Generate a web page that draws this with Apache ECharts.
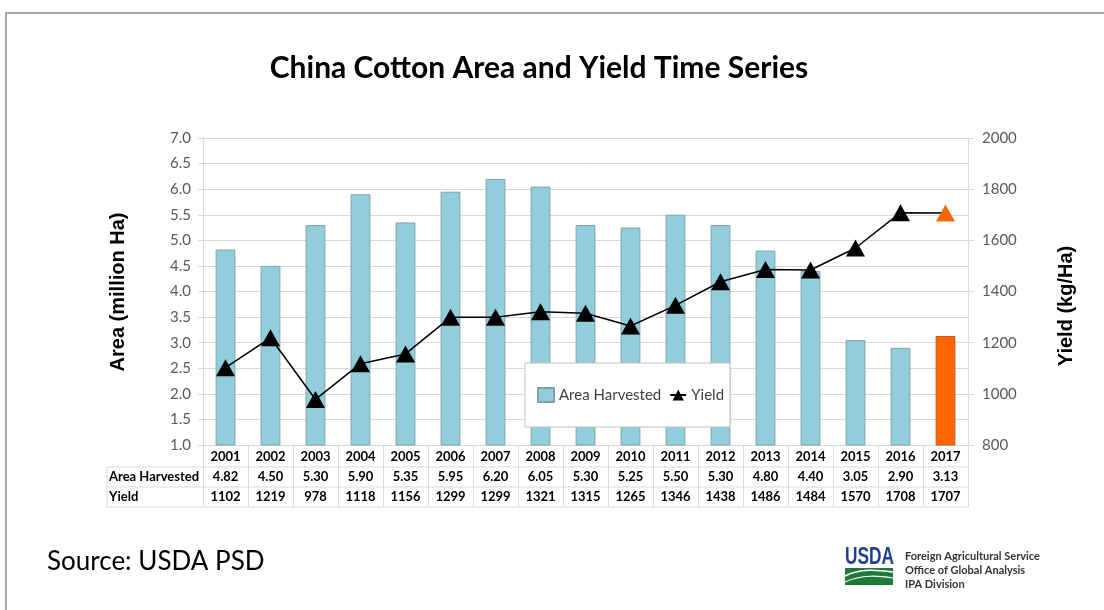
<!DOCTYPE html>
<html>
<head>
<meta charset="utf-8">
<script src="https://cdn.jsdelivr.net/npm/echarts@6/dist/echarts.min.js"></script>
<style>
html,body{margin:0;padding:0;background:#fff;}
#c{width:1104px;height:610px;}
</style>
</head>
<body>
<div id="c"></div>
<script>
var years = ['2001','2002','2003','2004','2005','2006','2007','2008','2009','2010','2011','2012','2013','2014','2015','2016','2017'];
var areaHarvested = [4.82,4.50,5.30,5.90,5.35,5.95,6.20,6.05,5.30,5.25,5.50,5.30,4.80,4.40,3.05,2.90,3.13];
var yieldVals = [1102,1219,978,1118,1156,1299,1299,1321,1315,1265,1346,1438,1486,1484,1570,1708,1707];
var highlightYear = '2017';

var chart = echarts.init(document.getElementById('c'), null, {renderer:'canvas'});

var GL = 203, GR = 968, GT = 138, GB = 445;
var tableFont = 'Lato, "Open Sans", sans-serif';

var barData = areaHarvested.map(function(v, i){
  if (years[i] === highlightYear) return {value: v, itemStyle: {color: '#FF6600', borderColor: '#c85a1e'}};
  return v;
});
var lineData = yieldVals.map(function(v, i){
  if (years[i] === highlightYear) return {value: v, itemStyle: {color: '#FF6600'}};
  return v;
});

var tblLine = {stroke: '#d9d9d9', lineWidth: 1};

var option = {
  backgroundColor: '#fff',
  animation: false,
  title: {
    text: 'China Cotton Area and Yield Time Series',
    left: 534, top: 48, textAlign: 'center',
    textStyle: {fontFamily: tableFont, fontWeight: 'bold', fontSize: 30, color: '#000'}
  },
  legend: {
    left: 525, top: 363,
    padding: [24, 6, 24, 12],
    backgroundColor: '#fff',
    borderColor: '#bfbfbf', borderWidth: 1,
    itemWidth: 16, itemHeight: 14, itemGap: 8,
    selectedMode: false,
    textStyle: {fontFamily: tableFont, fontSize: 15, color: '#404040'},
    data: [{name: 'Area Harvested', icon: 'rect'}, {name: 'Yield'}]
  },
  grid: {left: GL, right: 1104 - GR, top: GT, bottom: 610 - GB, containLabel: false},
  xAxis: [
    {
      type: 'category', data: years, position: 'bottom', boundaryGap: true,
      axisLine: {show: true, lineStyle: {color: '#d9d9d9'}},
      axisTick: {show: true, length: 62, alignWithLabel: false, lineStyle: {color: '#d9d9d9'}},
      axisLabel: {margin: 5, fontFamily: tableFont, fontWeight: 'bold', fontSize: 13, color: '#000', interval: 0}
    },
    {
      type: 'category', data: years, position: 'bottom', offset: 20, boundaryGap: true,
      axisLine: {show: false}, axisTick: {show: false},
      axisLabel: {margin: 5, fontFamily: tableFont, fontWeight: 'bold', fontSize: 13, color: '#000', interval: 0,
        formatter: function(v, i){ return areaHarvested[i].toFixed(2); }}
    },
    {
      type: 'category', data: years, position: 'bottom', offset: 40, boundaryGap: true,
      axisLine: {show: false}, axisTick: {show: false},
      axisLabel: {margin: 5, fontFamily: tableFont, fontWeight: 'bold', fontSize: 13, color: '#000', interval: 0,
        formatter: function(v, i){ return String(yieldVals[i]); }}
    }
  ],
  yAxis: [
    {
      type: 'value', min: 1, max: 7, interval: 0.5, position: 'left',
      axisLine: {show: true, lineStyle: {color: '#d9d9d9'}},
      axisTick: {show: true, length: 5, lineStyle: {color: '#d9d9d9'}},
      splitLine: {show: true, lineStyle: {color: '#d9d9d9', width: 1}},
      axisLabel: {margin: 12, fontFamily: tableFont, fontSize: 15, color: '#595959',
        formatter: function(v){ return v.toFixed(1); }}
    },
    {
      type: 'value', min: 800, max: 2000, interval: 200, position: 'right',
      axisLine: {show: true, lineStyle: {color: '#d9d9d9'}},
      axisTick: {show: true, length: 6, lineStyle: {color: '#d9d9d9'}},
      splitLine: {show: false},
      axisLabel: {margin: 14, fontFamily: tableFont, fontSize: 15, color: '#595959',
        formatter: function(v){ return String(v); }}
    }
  ],
  series: [
    {
      name: 'Area Harvested', type: 'bar', xAxisIndex: 0, yAxisIndex: 0,
      barWidth: '44%', data: barData,
      itemStyle: {color: '#92CDDC', borderColor: '#7fa3ae', borderWidth: 1}
    },
    {
      name: 'Yield', type: 'line', xAxisIndex: 0, yAxisIndex: 1,
      data: lineData, symbol: 'triangle', symbolSize: [19, 17],
      lineStyle: {color: '#000', width: 1.5},
      itemStyle: {color: '#000'}, z: 3
    }
  ],
  graphic: [
    {type: 'rect', shape: {x: 6, y: 13, width: 1200, height: 700}, style: {fill: 'none', stroke: '#a6a6a6', lineWidth: 2}, silent: true, z: -1},
    {type: 'line', shape: {x1: 107, y1: 467, x2: GR, y2: 467}, style: tblLine, silent: true},
    {type: 'line', shape: {x1: 107, y1: 487, x2: GR, y2: 487}, style: tblLine, silent: true},
    {type: 'line', shape: {x1: 107, y1: 507, x2: GR, y2: 507}, style: tblLine, silent: true},
    {type: 'line', shape: {x1: 107, y1: 467, x2: 107, y2: 507}, style: tblLine, silent: true},
    {type: 'text', left: 109, top: 470, style: {text: 'Area Harvested', font: 'bold 13px ' + tableFont, fill: '#000'}},
    {type: 'text', left: 109, top: 490, style: {text: 'Yield', font: 'bold 13px ' + tableFont, fill: '#000'}},
    {type: 'text', x: 118, y: 292, rotation: Math.PI / 2,
      style: {text: 'Area (million Ha)', font: 'bold 20px "Liberation Sans", Arial, sans-serif', fill: '#000', textAlign: 'center', textVerticalAlign: 'middle'}},
    {type: 'text', x: 1066, y: 306, rotation: Math.PI / 2,
      style: {text: 'Yield (kg/Ha)', font: 'bold 20px "Liberation Sans", Arial, sans-serif', fill: '#000', textAlign: 'center', textVerticalAlign: 'middle'}},
    {type: 'text', left: 47, top: 549, style: {text: 'Source: USDA PSD', font: '26px ' + tableFont, fill: '#000'}},
    {type: 'text', x: 845, y: 545, scaleX: 0.72, scaleY: 1, style: {text: 'USDA', font: 'bold 24px "Liberation Sans", sans-serif', fill: '#1f3f8f', textVerticalAlign: 'top'}},
    {type: 'rect', shape: {x: 845, y: 568, width: 48, height: 17}, style: {fill: '#1e7a3a'}},
    {type: 'bezierCurve', shape: {x1: 845, y1: 576, cpx1: 860, cpy1: 568, cpx2: 878, cpy2: 570, x2: 893, y2: 572}, style: {stroke: '#fff', lineWidth: 1.5, fill: 'none'}},
    {type: 'bezierCurve', shape: {x1: 845, y1: 582, cpx1: 862, cpy1: 574, cpx2: 880, cpy2: 576, x2: 893, y2: 578}, style: {stroke: '#fff', lineWidth: 1.2, fill: 'none'}},
    {type: 'text', left: 905, top: 551, style: {text: 'Foreign Agricultural Service', font: 'bold 11px ' + tableFont, fill: '#333'}},
    {type: 'text', left: 905, top: 565, style: {text: 'Office of Global Analysis', font: 'bold 11px ' + tableFont, fill: '#333'}},
    {type: 'text', left: 905, top: 579, style: {text: 'IPA Division', font: 'bold 11px ' + tableFont, fill: '#333'}}
  ]
};
chart.setOption(option);
</script>
</body>
</html>
